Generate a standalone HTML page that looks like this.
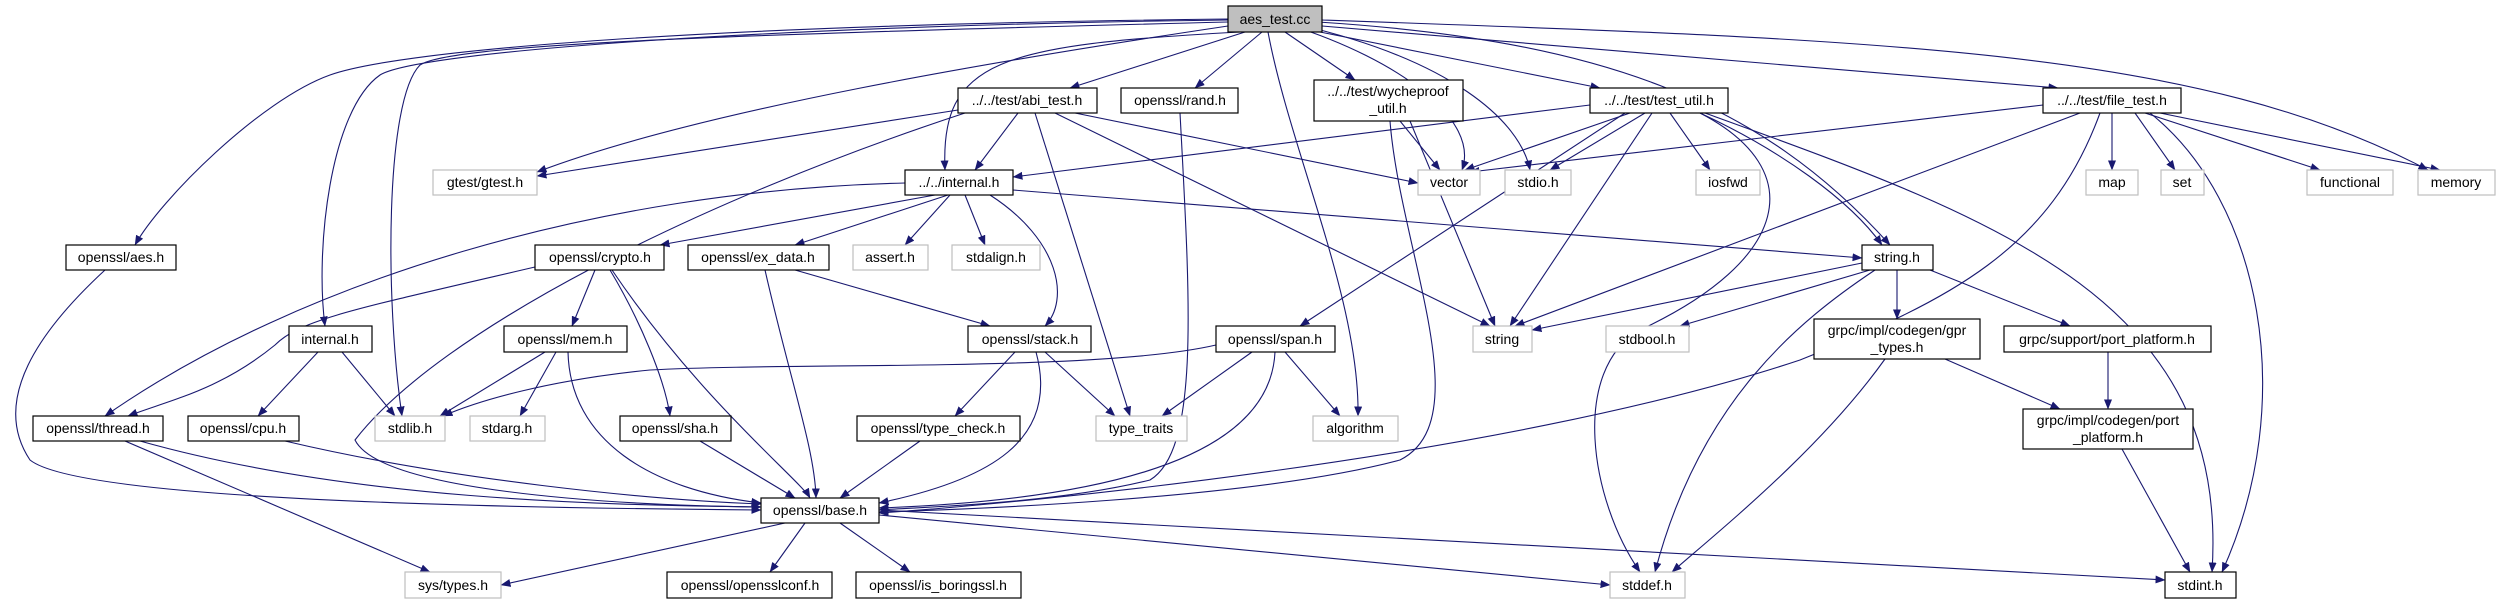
<!DOCTYPE html>
<html><head><meta charset="utf-8"><style>
html,body{margin:0;padding:0;background:#fff;}
svg{display:block;}
text{font-family:"Liberation Sans","DejaVu Sans",sans-serif;font-size:14px;fill:#000;}
.e{fill:none;stroke:#191970;stroke-width:1.1;marker-end:url(#ah);}
.b{fill:#fff;stroke:#000;stroke-width:1.2;}
.g{fill:#fff;stroke:#bfbfbf;stroke-width:1.2;}
</style></head><body>
<svg width="2506" height="604" viewBox="0 0 2506 604" xmlns="http://www.w3.org/2000/svg">
<defs><marker id="ah" markerWidth="10" markerHeight="8" refX="9.5" refY="4" orient="auto" markerUnits="userSpaceOnUse"><path d="M0,0 L10,4 L0,8 z" fill="#191970"/></marker></defs>
<g>
<path class="e" d="M1228,19 C700,25 400,50 330,75 C260,100 160,200 135,245"/>
<path class="e" d="M1228,20 C800,25 420,50 380,75 C330,110 315,250 325,326"/>
<path class="e" d="M1228,22 C700,35 450,45 420,65 C385,100 385,300 402,416"/>
<path class="e" d="M1228,26 C1000,60 700,110 537,172"/>
<path class="e" d="M958,110 L537,176"/>
<path class="e" d="M1240,32 C1000,45 940,60 945,170"/>
<path class="e" d="M1018,113 L975,170"/>
<path class="e" d="M1590,105 L1013,177"/>
<path class="e" d="M1245,32 L1070,88"/>
<path class="e" d="M1262,32 L1195,88"/>
<path class="e" d="M1268,32 C1290,150 1360,300 1358,416"/>
<path class="e" d="M1285,32 L1355,80"/>
<path class="e" d="M1290,25 C1400,60 1480,120 1462,170"/>
<path class="e" d="M1300,25 C1450,60 1520,120 1530,170"/>
<path class="e" d="M1310,30 L1600,88"/>
<path class="e" d="M1318,22 C1600,40 1760,100 1890,245"/>
<path class="e" d="M1322,26 L2058,88"/>
<path class="e" d="M1322,20 C1900,40 2200,50 2428,170"/>
<path class="e" d="M965,113 C700,200 440,330 355,440 C380,490 600,505 761,507"/>
<path class="e" d="M1035,113 L1130,416"/>
<path class="e" d="M1055,113 L1490,326"/>
<path class="e" d="M1075,113 L1418,183"/>
<path class="e" d="M1180,113 C1190,300 1200,450 1150,480 C1050,505 900,508 879,510"/>
<path class="e" d="M1400,121 L1440,170"/>
<path class="e" d="M1410,121 L1495,326"/>
<path class="e" d="M1390,121 C1400,250 1480,420 1400,460 C1250,500 950,510 879,512"/>
<path class="e" d="M1630,113 L1465,170"/>
<path class="e" d="M1645,113 L1550,170"/>
<path class="e" d="M1670,113 L1710,170"/>
<path class="e" d="M1652,113 L1510,326"/>
<path class="e" d="M1700,113 C1780,150 1850,200 1882,245"/>
<path class="e" d="M1625,113 L1300,326"/>
<path class="e" d="M1700,113 C1810,170 1790,260 1640,330 C1570,370 1590,500 1640,572"/>
<path class="e" d="M1705,113 C2000,220 2230,300 2212,572"/>
<path class="e" d="M2043,105 L1470,172"/>
<path class="e" d="M2112,113 L2112,170"/>
<path class="e" d="M2135,113 L2175,170"/>
<path class="e" d="M2145,113 L2320,170"/>
<path class="e" d="M2160,113 L2440,170"/>
<path class="e" d="M2150,113 C2260,200 2300,400 2222,572"/>
<path class="e" d="M2080,113 L1515,326"/>
<path class="e" d="M2100,113 C2050,250 1950,300 1800,360 C1500,460 1000,505 879,513"/>
<path class="e" d="M905,183 C600,190 300,280 105,416"/>
<path class="e" d="M935,195 L660,245"/>
<path class="e" d="M948,195 L795,245"/>
<path class="e" d="M950,195 L905,245"/>
<path class="e" d="M965,195 L985,245"/>
<path class="e" d="M990,195 C1060,240 1070,300 1045,326"/>
<path class="e" d="M1013,190 L1862,258"/>
<path class="e" d="M535,267 C350,310 300,320 275,345 C220,390 170,400 128,416"/>
<path class="e" d="M595,270 L572,326"/>
<path class="e" d="M610,270 C640,320 665,380 670,416"/>
<path class="e" d="M612,270 C700,400 800,480 810,498"/>
<path class="e" d="M795,270 L990,326"/>
<path class="e" d="M765,270 C790,380 815,450 816,498"/>
<path class="e" d="M318,352 L258,416"/>
<path class="e" d="M342,352 L395,416"/>
<path class="e" d="M545,352 L440,416"/>
<path class="e" d="M556,352 L520,416"/>
<path class="e" d="M568,352 C570,440 650,490 761,503"/>
<path class="e" d="M1015,352 L955,416"/>
<path class="e" d="M1045,352 L1115,416"/>
<path class="e" d="M1036,352 C1060,440 990,480 879,503"/>
<path class="e" d="M1216,345 C1100,372 800,362 650,370 C550,380 480,400 443,416"/>
<path class="e" d="M1252,352 L1162,416"/>
<path class="e" d="M1285,352 L1340,416"/>
<path class="e" d="M1275,352 C1270,460 1100,500 879,508"/>
<path class="e" d="M140,441 C350,500 600,505 761,507"/>
<path class="e" d="M125,441 L430,572"/>
<path class="e" d="M285,441 C450,480 650,500 761,504"/>
<path class="e" d="M105,270 C40,330 -10,400 30,460 C80,500 500,508 761,510"/>
<path class="e" d="M700,441 L795,498"/>
<path class="e" d="M920,441 L840,498"/>
<path class="e" d="M1862,263 L1532,330"/>
<path class="e" d="M1870,270 L1680,326"/>
<path class="e" d="M1897,270 L1897,319"/>
<path class="e" d="M1930,270 L2070,326"/>
<path class="e" d="M1875,270 C1800,320 1700,400 1655,572"/>
<path class="e" d="M1885,359 C1820,450 1720,530 1672,572"/>
<path class="e" d="M1945,359 L2060,409"/>
<path class="e" d="M2108,352 L2108,409"/>
<path class="e" d="M2122,449 L2190,572"/>
<path class="e" d="M785,523 L501,585"/>
<path class="e" d="M805,523 L770,572"/>
<path class="e" d="M840,523 L910,572"/>
<path class="e" d="M879,515 L1610,585"/>
<path class="e" d="M879,510 L2165,580"/>
</g>
<g>
<rect x="1228" y="6" width="94" height="26" fill="#bfbfbf" stroke="#000" stroke-width="1.2"/><text x="1275" y="24" text-anchor="middle">aes_test.cc</text>
<rect class="b" x="958" y="88" width="139" height="25"/><text x="1027" y="105" text-anchor="middle">../../test/abi_test.h</text>
<rect class="b" x="1121" y="88" width="117" height="25"/><text x="1180" y="105" text-anchor="middle">openssl/rand.h</text>
<rect class="b" x="1314" y="80" width="149" height="41"/><text x="1388" y="96" text-anchor="middle">../../test/wycheproof</text><text x="1388" y="113" text-anchor="middle">_util.h</text>
<rect class="b" x="1590" y="88" width="138" height="25"/><text x="1659" y="105" text-anchor="middle">../../test/test_util.h</text>
<rect class="b" x="2043" y="88" width="138" height="25"/><text x="2112" y="105" text-anchor="middle">../../test/file_test.h</text>
<rect class="g" x="433" y="170" width="104" height="25"/><text x="485" y="187" text-anchor="middle">gtest/gtest.h</text>
<rect class="b" x="905" y="170" width="108" height="25"/><text x="959" y="187" text-anchor="middle">../../internal.h</text>
<rect class="g" x="1418" y="170" width="62" height="25"/><text x="1449" y="187" text-anchor="middle">vector</text>
<rect class="g" x="1505" y="170" width="66" height="25"/><text x="1538" y="187" text-anchor="middle">stdio.h</text>
<rect class="g" x="1696" y="170" width="64" height="25"/><text x="1728" y="187" text-anchor="middle">iosfwd</text>
<rect class="g" x="2086" y="170" width="52" height="25"/><text x="2112" y="187" text-anchor="middle">map</text>
<rect class="g" x="2161" y="170" width="43" height="25"/><text x="2182" y="187" text-anchor="middle">set</text>
<rect class="g" x="2307" y="170" width="86" height="25"/><text x="2350" y="187" text-anchor="middle">functional</text>
<rect class="g" x="2418" y="170" width="77" height="25"/><text x="2456" y="187" text-anchor="middle">memory</text>
<rect class="b" x="66" y="245" width="110" height="25"/><text x="121" y="262" text-anchor="middle">openssl/aes.h</text>
<rect class="b" x="535" y="245" width="129" height="25"/><text x="600" y="262" text-anchor="middle">openssl/crypto.h</text>
<rect class="b" x="688" y="245" width="141" height="25"/><text x="758" y="262" text-anchor="middle">openssl/ex_data.h</text>
<rect class="g" x="853" y="245" width="75" height="25"/><text x="890" y="262" text-anchor="middle">assert.h</text>
<rect class="g" x="952" y="245" width="88" height="25"/><text x="996" y="262" text-anchor="middle">stdalign.h</text>
<rect class="b" x="1862" y="245" width="71" height="25"/><text x="1897" y="262" text-anchor="middle">string.h</text>
<rect class="b" x="289" y="326" width="83" height="26"/><text x="330" y="344" text-anchor="middle">internal.h</text>
<rect class="b" x="504" y="326" width="123" height="26"/><text x="565" y="344" text-anchor="middle">openssl/mem.h</text>
<rect class="b" x="968" y="326" width="123" height="26"/><text x="1030" y="344" text-anchor="middle">openssl/stack.h</text>
<rect class="b" x="1216" y="326" width="119" height="26"/><text x="1275" y="344" text-anchor="middle">openssl/span.h</text>
<rect class="g" x="1473" y="326" width="59" height="26"/><text x="1502" y="344" text-anchor="middle">string</text>
<rect class="g" x="1606" y="326" width="83" height="26"/><text x="1647" y="344" text-anchor="middle">stdbool.h</text>
<rect class="b" x="1814" y="319" width="166" height="40"/><text x="1897" y="335" text-anchor="middle">grpc/impl/codegen/gpr</text><text x="1897" y="352" text-anchor="middle">_types.h</text>
<rect class="b" x="2004" y="326" width="207" height="26"/><text x="2107" y="344" text-anchor="middle">grpc/support/port_platform.h</text>
<rect class="b" x="2023" y="409" width="170" height="40"/><text x="2108" y="425" text-anchor="middle">grpc/impl/codegen/port</text><text x="2108" y="442" text-anchor="middle">_platform.h</text>
<rect class="b" x="33" y="416" width="130" height="25"/><text x="98" y="433" text-anchor="middle">openssl/thread.h</text>
<rect class="b" x="188" y="416" width="111" height="25"/><text x="243" y="433" text-anchor="middle">openssl/cpu.h</text>
<rect class="g" x="375" y="416" width="70" height="25"/><text x="410" y="433" text-anchor="middle">stdlib.h</text>
<rect class="g" x="470" y="416" width="75" height="25"/><text x="507" y="433" text-anchor="middle">stdarg.h</text>
<rect class="b" x="620" y="416" width="111" height="25"/><text x="675" y="433" text-anchor="middle">openssl/sha.h</text>
<rect class="b" x="857" y="416" width="163" height="25"/><text x="938" y="433" text-anchor="middle">openssl/type_check.h</text>
<rect class="g" x="1096" y="416" width="91" height="25"/><text x="1141" y="433" text-anchor="middle">type_traits</text>
<rect class="g" x="1313" y="416" width="85" height="25"/><text x="1355" y="433" text-anchor="middle">algorithm</text>
<rect class="b" x="761" y="498" width="118" height="25"/><text x="820" y="515" text-anchor="middle">openssl/base.h</text>
<rect class="g" x="405" y="572" width="96" height="26"/><text x="453" y="590" text-anchor="middle">sys/types.h</text>
<rect class="b" x="667" y="572" width="165" height="26"/><text x="750" y="590" text-anchor="middle">openssl/opensslconf.h</text>
<rect class="b" x="856" y="572" width="165" height="26"/><text x="938" y="590" text-anchor="middle">openssl/is_boringssl.h</text>
<rect class="g" x="1610" y="572" width="75" height="26"/><text x="1647" y="590" text-anchor="middle">stddef.h</text>
<rect class="b" x="2165" y="572" width="71" height="26"/><text x="2200" y="590" text-anchor="middle">stdint.h</text>
</g>
</svg>
</body></html>
